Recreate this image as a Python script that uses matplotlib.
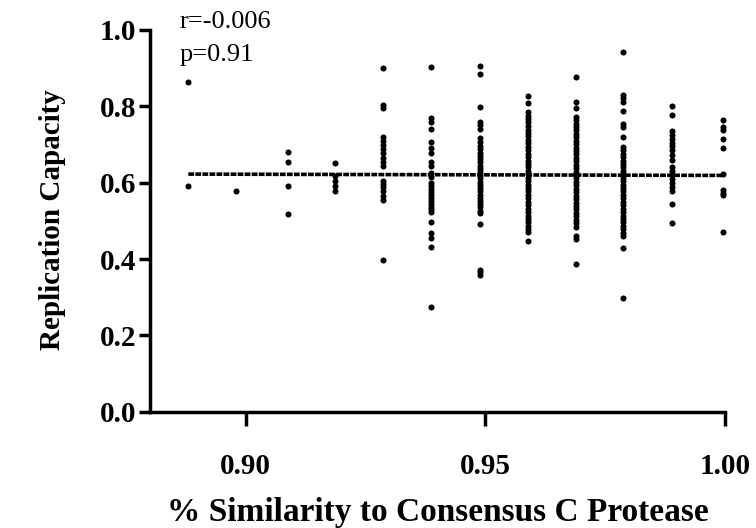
import matplotlib
matplotlib.use("Agg")
import matplotlib.pyplot as plt

# x categories (similarity fraction) and replication capacity per column
x_levels = [0.8880, 0.8980, 0.9087, 0.9187, 0.9287, 0.9387, 0.9488, 0.9588, 0.9688, 0.9788, 0.9890, 0.9996]

c0889 = [0.865, 0.590]
c0899 = [0.578]
c0909 = [0.680, 0.655, 0.590, 0.518]
c0919 = [0.652, 0.618, 0.605, 0.592, 0.578]
c0929 = [0.900, 0.803, 0.795, 0.720, 0.709, 0.698, 0.687, 0.677, 0.665, 0.655, 0.644,
         0.605, 0.597, 0.588, 0.578, 0.565, 0.555, 0.397]
c0939 = [0.904, 0.769, 0.760, 0.741, 0.707, 0.692, 0.679, 0.655, 0.644, 0.625, 0.615,
         0.600, 0.592, 0.584, 0.576, 0.568, 0.560, 0.552, 0.544, 0.537, 0.530, 0.524,
         0.498, 0.468, 0.454, 0.432, 0.274]
c0949 = [0.906, 0.886, 0.797, 0.760, 0.750, 0.740, 0.716, 0.706, 0.697, 0.688, 0.679,
         0.671, 0.662, 0.653, 0.645, 0.636, 0.628, 0.620, 0.611, 0.603, 0.594, 0.586,
         0.577, 0.569, 0.560, 0.552, 0.543, 0.535, 0.527, 0.520, 0.492, 0.372, 0.365, 0.358]
c0960 = [0.828, 0.810, 0.786, 0.776, 0.767, 0.758, 0.748, 0.739, 0.730, 0.721, 0.712,
         0.703, 0.694, 0.685, 0.676, 0.667, 0.658, 0.649, 0.640, 0.631, 0.622, 0.613,
         0.604, 0.595, 0.586, 0.577, 0.568, 0.559, 0.550, 0.541, 0.532, 0.523, 0.514,
         0.505, 0.496, 0.487, 0.478, 0.470, 0.448]
c0970 = [0.877, 0.812, 0.795, 0.773, 0.764, 0.755, 0.746, 0.737, 0.728, 0.719, 0.710,
         0.701, 0.692, 0.683, 0.674, 0.665, 0.656, 0.647, 0.638, 0.629, 0.620, 0.611,
         0.602, 0.593, 0.584, 0.575, 0.566, 0.557, 0.548, 0.539, 0.530, 0.521, 0.512,
         0.503, 0.494, 0.485, 0.460, 0.452, 0.387]
c0980 = [0.942, 0.830, 0.822, 0.812, 0.789, 0.754, 0.745, 0.720, 0.694, 0.685, 0.676,
         0.667, 0.658, 0.649, 0.640, 0.631, 0.622, 0.613, 0.604, 0.595, 0.586, 0.577,
         0.568, 0.559, 0.550, 0.541, 0.532, 0.523, 0.514, 0.505, 0.496, 0.487, 0.478,
         0.469, 0.460, 0.430, 0.297]
c0990 = [0.800, 0.777, 0.736, 0.726, 0.715, 0.705, 0.695, 0.685, 0.672, 0.660, 0.642,
         0.631, 0.620, 0.610, 0.600, 0.588, 0.577, 0.543, 0.494]
c1000 = [0.765, 0.747, 0.737, 0.714, 0.692, 0.623, 0.580, 0.573, 0.567, 0.470]

columns = [c0889, c0899, c0909, c0919, c0929, c0939, c0949, c0960, c0970, c0980, c0990, c1000]

# regression line endpoints
fit_x = [0.8880, 0.9996]
fit_y = [0.6225, 0.6190]

x_ticks = [0.90, 0.95, 1.00]
x_tick_labels = ["0.90", "0.95", "1.00"]
y_ticks = [0.0, 0.2, 0.4, 0.6, 0.8, 1.0]
y_tick_labels = ["0.0", "0.2", "0.4", "0.6", "0.8", "1.0"]

serif = ["Liberation Serif", "DejaVu Serif"]

fig = plt.figure(figsize=(7.56, 5.28), dpi=100)
ax = fig.add_axes([150 / 756, 1 - 411.7 / 528, 575 / 756, 381.7 / 528])

xs, ys = [], []
for xv, col in zip(x_levels, columns):
    xs.extend([xv] * len(col))
    ys.extend(col)
ax.scatter(xs, ys, s=19, color="black", linewidths=0, zorder=3, clip_on=False)

ax.plot(fit_x, fit_y, color="black", lw=2.6, linestyle=(0, (1.6, 0.35)), zorder=2)

ax.set_xlim(0.88, 1.00)
ax.set_ylim(0.0, 1.0)
ax.set_xticks(x_ticks)
ax.set_xticklabels(x_tick_labels)
ax.set_yticks(y_ticks)
ax.set_yticklabels(y_tick_labels)

for s in ["top", "right"]:
    ax.spines[s].set_visible(False)
for s in ["left", "bottom"]:
    ax.spines[s].set_linewidth(2.5)

ax.tick_params(axis="x", direction="out", length=10, width=2.5, pad=20)
ax.tick_params(axis="y", direction="out", length=8, width=2.5, pad=2)
for lab in ax.get_xticklabels() + ax.get_yticklabels():
    lab.set_fontfamily(serif)
    lab.set_fontweight("bold")
    lab.set_fontsize(21)

ax.set_xlabel("% Similarity to Consensus C Protease", fontfamily=serif,
              fontweight="bold", fontsize=24)
ax.xaxis.label.set_va("center")
ax.xaxis.set_label_coords(0.5, (411.7 - 512) / 381.7)
ax.set_ylabel("Replication Capacity", fontfamily=serif, fontweight="bold",
              fontsize=21)
ax.yaxis.label.set_va("center")
ax.yaxis.set_label_coords((53 - 150) / 575, (411.7 - 219.5) / 381.7)

ax.text(0.052, 1.005, "r=-0.006", transform=ax.transAxes, fontfamily=serif,
        fontsize=19, va="baseline", ha="left")
ax.text(0.052, 0.92, "p=0.91", transform=ax.transAxes, fontfamily=serif,
        fontsize=19, va="baseline", ha="left")

fig.savefig("out.png", dpi=100)
